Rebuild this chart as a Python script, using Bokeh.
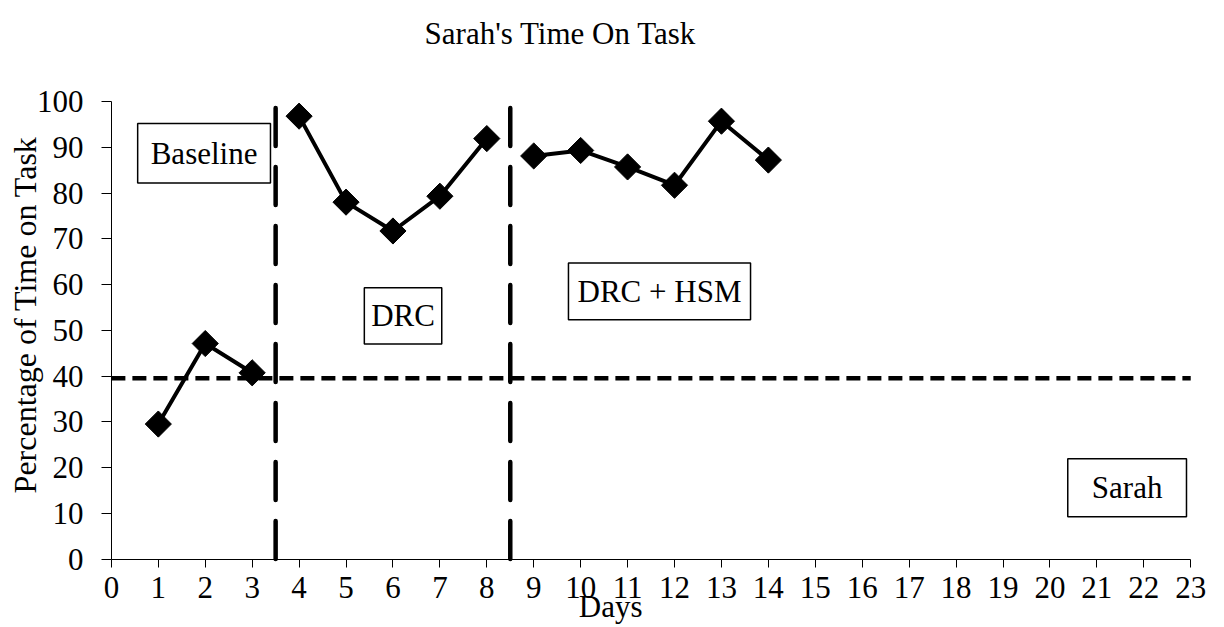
import math
from bokeh.plotting import figure
from bokeh.models import Range1d, Label, BoxAnnotation, FixedTicker
from bokeh.embed import file_html
from bokeh.resources import INLINE

# ---------------- data ----------------
baseline_days = [1, 2, 3]
baseline_vals = [29.5, 47.1, 40.7]
drc_days = [4, 5, 6, 7, 8]
drc_vals = [96.8, 78.0, 71.7, 79.3, 91.9]
hsm_days = [9, 10, 11, 12, 13, 14]
hsm_vals = [88.1, 89.3, 85.7, 81.7, 95.7, 87.2]
criterion = 39.5
phase_changes = [3.5, 8.5]
x_ticks = list(range(0, 24))
y_ticks = list(range(0, 101, 10))

title_text = "Sarah's Time On Task"
x_label = "Days"
y_label = "Percentage of Time on Task"

FONT = "Liberation Serif"
FS = "31px"

# The frame covers the whole canvas; the axes are pinned at 0 so that the
# title and axis titles can be placed as labels anywhere on the canvas.
p = figure(width=1224, height=627,
           x_range=Range1d(-2.363, 23.72), y_range=Range1d(-14.97, 122.08),
           output_backend="svg", toolbar_location=None,
           min_border_left=0, min_border_right=0,
           min_border_top=0, min_border_bottom=0)
p.outline_line_color = None
p.xgrid.grid_line_color = None
p.ygrid.grid_line_color = None
p.background_fill_color = "white"

for ax in (p.xaxis[0], p.yaxis[0]):
    ax.axis_line_color = "black"
    ax.axis_line_width = 1
    ax.major_tick_line_color = "black"
    ax.major_tick_line_width = 1
    ax.minor_tick_line_color = None
    ax.major_tick_in = 0
    ax.major_label_text_font = FONT
    ax.major_label_text_font_size = FS
    ax.major_label_text_color = "black"
    ax.axis_label = None
    ax.fixed_location = 0

p.xaxis.bounds = (x_ticks[0], x_ticks[-1])
p.yaxis.bounds = (y_ticks[0], y_ticks[-1])
p.xaxis.ticker = FixedTicker(ticks=x_ticks)
p.yaxis.ticker = FixedTicker(ticks=y_ticks)
p.xaxis.major_tick_out = 8
p.yaxis.major_tick_out = 10
p.yaxis.major_label_standoff = 18
p.xaxis.major_label_standoff = 10

# criterion line
p.segment(x0=[x_ticks[0]], y0=[criterion], x1=[x_ticks[-1]], y1=[criterion],
          line_color="black", line_width=4.5, line_dash="14 7")
# phase change lines (drawn bottom to top)
p.segment(x0=phase_changes, y0=[y_ticks[0]] * len(phase_changes),
          x1=phase_changes, y1=[y_ticks[-1]] * len(phase_changes),
          line_color="black", line_width=4.5, line_dash="38 21", line_cap="round")

for xs, ys in ((baseline_days, baseline_vals), (drc_days, drc_vals), (hsm_days, hsm_vals)):
    p.line(xs, ys, line_color="black", line_width=4)
    p.scatter(xs, ys, marker="square", angle=math.pi / 4, size=18.5,
              fill_color="black", line_color="black")

# phase boxes
boxes = [
    ("Baseline", 0.56, 3.39, 95.2, 82.2),
    ("DRC", 5.39, 7.04, 59.3, 47.0),
    ("DRC + HSM", 9.74, 13.62, 64.7, 52.3),
    ("Sarah", 20.38, 22.91, 21.9, 9.25),
]
for txt, l, r, t, b in boxes:
    p.add_layout(BoxAnnotation(left=l, right=r, top=t, bottom=b,
                               fill_color="white", fill_alpha=1.0,
                               line_color="black", line_width=1.5, line_alpha=1.0))
    p.add_layout(Label(x=(l + r) / 2, y=(t + b) / 2, text=txt,
                       text_align="center", text_baseline="middle",
                       text_font=FONT, text_font_size=FS, text_color="black"))

# title and axis titles
p.add_layout(Label(x=9.57, y=114.9, text=title_text, text_align="center",
                   text_baseline="alphabetic", text_font=FONT, text_font_size=FS,
                   text_color="black"))
p.add_layout(Label(x=10.64, y=-10.3, text=x_label, text_align="center",
                   text_baseline="alphabetic", text_font=FONT, text_font_size=FS,
                   text_color="black"))
p.add_layout(Label(x=-1.845, y=53.4, text=y_label, angle=math.pi / 2,
                   text_align="center", text_baseline="middle",
                   text_font=FONT, text_font_size="32px", text_color="black"))

open("out.html", "w").write(file_html(p, INLINE))
